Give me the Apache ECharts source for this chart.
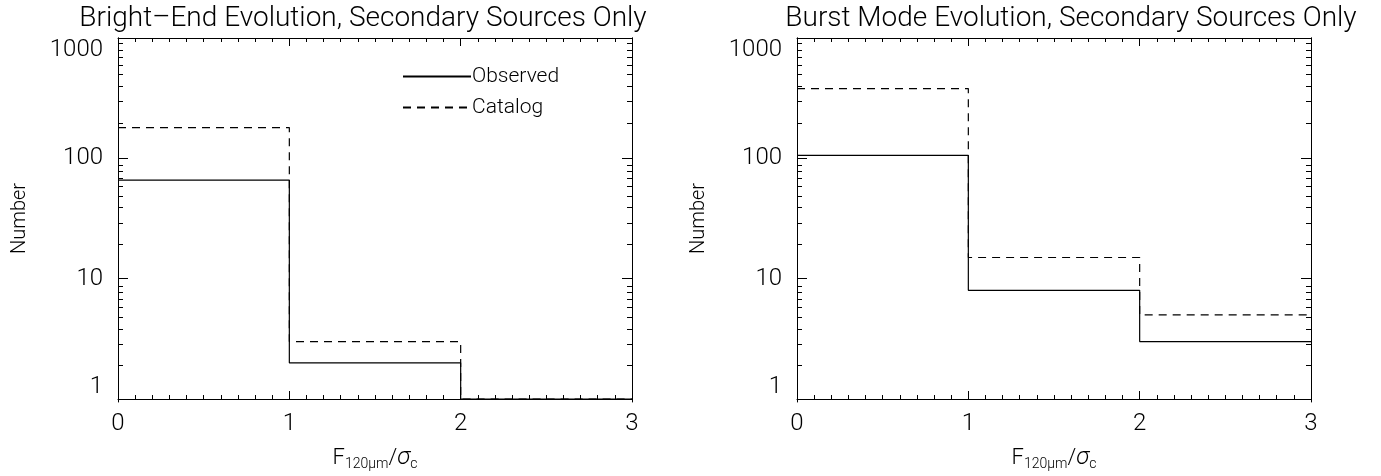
<!DOCTYPE html>
<html>
<head>
<meta charset="utf-8">
<script src="https://cdn.jsdelivr.net/npm/echarts@6/dist/echarts.min.js"></script>
<style>html,body{margin:0;padding:0;background:#fff}#c{width:1381px;height:476px}</style>
</head>
<body>
<div id="c"></div>
<script>
const binEdges = [0, 1, 2, 3];
const leftObserved = [66, 2, 1];
const leftCatalog = [180, 3, 1];
const rightObserved = [106, 8, 3];
const rightCatalog = [380, 15, 5];
const xTickLabels = [0, 1, 2, 3];
const yMajorTicks = [1, 10, 100, 1000];
const yMinorTicks = [2,3,4,5,6,7,8,9,20,30,40,50,60,70,80,90,200,300,400,500,600,700,800,900];
const titles = ['Bright\u2013End Evolution, Secondary Sources Only', 'Burst Mode Evolution, Secondary Sources Only'];
const yName = 'Number';

const FONT = 'Roboto';
const FW = 300;
function stepData(vals) {
  return binEdges.map((e, i) => [e, vals[Math.min(i, vals.length - 1)]]);
}
const panelRects = [
  {left: 118, right: 749, top: 38, bottom: 74},
  {left: 797, right: 70, top: 38, bottom: 74}
];
const grids = [];
panelRects.forEach(r => { grids.push(Object.assign({}, r)); grids.push(Object.assign({}, r)); });
const xAxes = [], yAxes = [], series = [], titleComps = [];
const AX = {color: '#000', width: 1};
panelRects.forEach((r, pi) => {
  const gA = pi * 2, gB = pi * 2 + 1;
  const xbase = {type: 'value', min: 0, max: 3, interval: 1,
    axisLine: {show: true, onZero: false, lineStyle: AX},
    axisTick: {show: true, inside: true, length: 8, lineStyle: AX},
    minorTick: {show: true, splitNumber: 10, length: 4, lineStyle: AX},
    splitLine: {show: false}, minorSplitLine: {show: false}};
  xAxes.push(Object.assign({}, xbase, {gridIndex: gA, position: 'bottom',
    axisLabel: {show: true, margin: 13, fontSize: 24, fontWeight: FW, color: '#000', fontFamily: FONT,
      customValues: xTickLabels},
    name: '{f|F}{s|120\u03bcm}{f|/}{g|\u03c3}{s|c}', nameLocation: 'middle', nameGap: 46,
    nameTextStyle: {rich: {
      f: {fontSize: 22, fontWeight: FW, fontFamily: FONT, color: '#000'},
      g: {fontSize: 24, fontWeight: FW, fontFamily: FONT, fontStyle: 'italic', color: '#000'},
      s: {fontSize: 14, fontWeight: FW, fontFamily: FONT, color: '#000', padding: [12, 0, 0, 0]}
    }}}));
  xAxes.push(Object.assign({}, xbase, {gridIndex: gB, position: 'top', axisLabel: {show: false}}));
  const ybase = {type: 'log', logBase: 10, min: 1, max: 1000,
    axisLine: {show: true, onZero: false, lineStyle: AX},
    splitLine: {show: false}};
  yAxes.push(Object.assign({}, ybase, {gridIndex: gA, position: 'left',
    axisTick: {show: true, inside: true, length: 10, customValues: yMajorTicks, lineStyle: AX},
    axisLabel: {show: true, margin: 15, fontSize: 24, fontWeight: FW, color: '#000', fontFamily: FONT,
      customValues: yMajorTicks, formatter: v => String(Math.round(v)),
      verticalAlignMinLabel: 'bottom', verticalAlignMaxLabel: 'top'},
    name: yName, nameLocation: 'middle', nameGap: 88, nameRotate: 90,
    nameTextStyle: {fontSize: 20, fontWeight: FW, color: '#000', fontFamily: FONT}}));
  yAxes.push(Object.assign({}, ybase, {gridIndex: gA, position: 'right',
    axisTick: {show: true, inside: true, length: 10, customValues: yMajorTicks, lineStyle: AX},
    axisLabel: {show: false}}));
  yAxes.push(Object.assign({}, ybase, {gridIndex: gB, position: 'left',
    axisTick: {show: true, inside: true, length: 5, customValues: yMinorTicks, lineStyle: AX},
    axisLabel: {show: false}}));
  yAxes.push(Object.assign({}, ybase, {gridIndex: gB, position: 'right',
    axisTick: {show: true, inside: true, length: 5, customValues: yMinorTicks, lineStyle: AX},
    axisLabel: {show: false}}));
  titleComps.push({text: titles[pi], left: pi === 0 ? 358 : 1066, top: 0, textAlign: 'center',
    textStyle: {fontSize: 28, fontWeight: FW, color: '#000', fontFamily: FONT}});
});
const panelData = [[leftObserved, leftCatalog], [rightObserved, rightCatalog]];
panelData.forEach((pd, pi) => {
  series.push({name: 'Observed', type: 'line', xAxisIndex: pi * 2, yAxisIndex: pi * 4,
    step: 'end', symbol: 'none', data: stepData(pd[0]),
    lineStyle: {color: '#000', width: 1.2, type: 'solid'}, itemStyle: {color: '#000'}, z: 3});
  series.push({name: 'Catalog', type: 'line', xAxisIndex: pi * 2, yAxisIndex: pi * 4,
    step: 'end', symbol: 'none', data: stepData(pd[1]),
    lineStyle: {color: '#000', width: 1.2, type: [8, 6]}, itemStyle: {color: '#000'}, z: 3});
});
const chart = echarts.init(document.getElementById('c'), null, {renderer: 'canvas'});
chart.setOption({
  animation: false,
  backgroundColor: '#fff',
  title: titleComps,
  legend: {data: ['Observed', 'Catalog'], orient: 'vertical', left: 402, top: 66, padding: 0,
    itemWidth: 68, itemHeight: 14, itemGap: 10, selectedMode: false,
    itemStyle: {opacity: 0},
    textStyle: {fontSize: 21, fontWeight: FW, lineHeight: 14, color: '#000', fontFamily: FONT, padding: [0, 0, 0, -4]}},
  grid: grids,
  xAxis: xAxes,
  yAxis: yAxes,
  series: series
});
</script>
</body>
</html>
